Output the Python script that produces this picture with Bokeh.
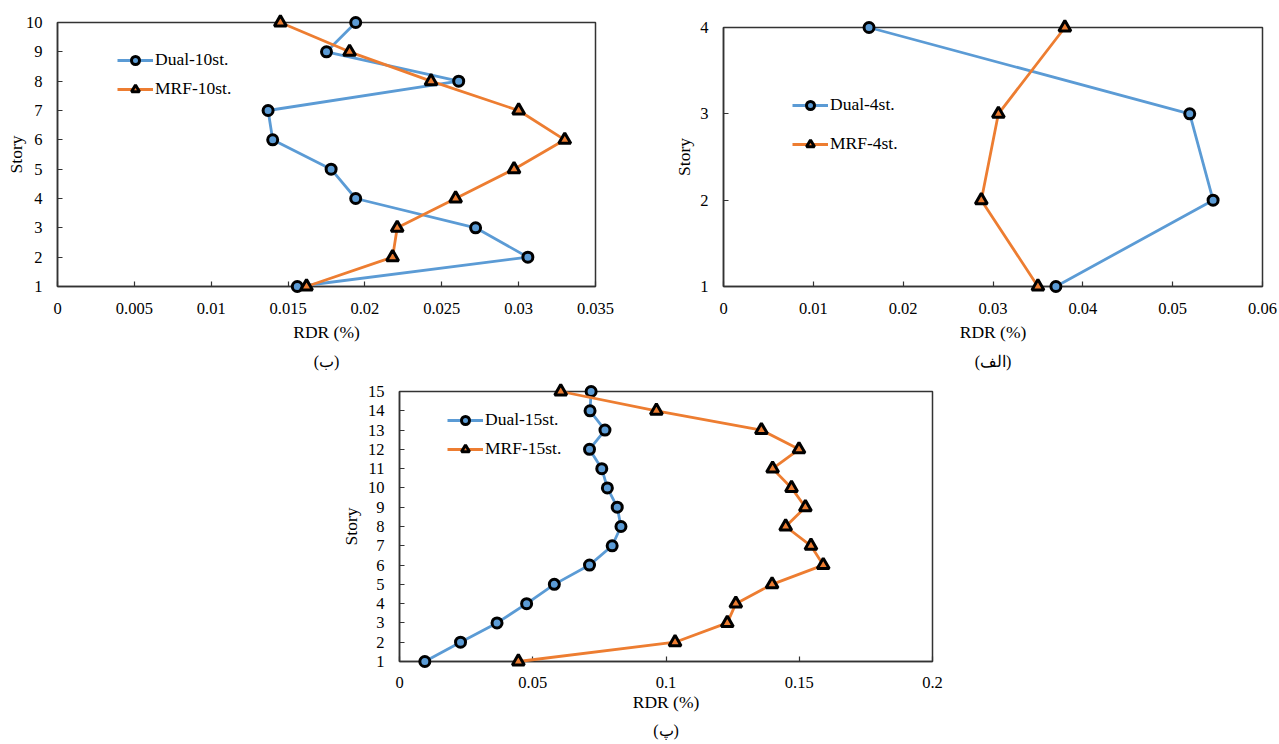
from bokeh.plotting import figure
from bokeh.models import Range1d, FixedTicker, Legend, LegendItem, Title, Spacer
from bokeh.layouts import column, row
from bokeh.embed import file_html
from bokeh.resources import INLINE

BLUE = "#5B9BD5"
ORANGE = "#ED7D31"
AXIS = "#333333"
FONT = "Liberation Serif"

# ---- 10-story (ب) ----
stories_10 = [1, 2, 3, 4, 5, 6, 7, 8, 9, 10]
dual_10 = [0.0156, 0.0306, 0.0272, 0.0194, 0.0178, 0.0140, 0.0137, 0.0261, 0.0175, 0.0194]
mrf_10 = [0.0162, 0.0218, 0.0221, 0.0259, 0.0297, 0.0330, 0.0300, 0.0243, 0.0190, 0.0145]
xticks_10 = [0, 0.005, 0.01, 0.015, 0.02, 0.025, 0.03, 0.035]
xlabels_10 = ["0", "0.005", "0.01", "0.015", "0.02", "0.025", "0.03", "0.035"]

# ---- 4-story (الف) ----
stories_4 = [1, 2, 3, 4]
dual_4 = [0.0370, 0.0545, 0.0519, 0.0162]
mrf_4 = [0.0350, 0.0287, 0.0306, 0.0380]
xticks_4 = [0, 0.01, 0.02, 0.03, 0.04, 0.05, 0.06]
xlabels_4 = ["0", "0.01", "0.02", "0.03", "0.04", "0.05", "0.06"]

# ---- 15-story (پ) ----
stories_15 = [1, 2, 3, 4, 5, 6, 7, 8, 9, 10, 11, 12, 13, 14, 15]
dual_15 = [0.0095, 0.0229, 0.0366, 0.0477, 0.0581, 0.0713, 0.0798, 0.0831,
           0.0817, 0.0780, 0.0759, 0.0713, 0.0771, 0.0715, 0.0719]
mrf_15 = [0.0446, 0.1034, 0.1230, 0.1262, 0.1398, 0.1590, 0.1544, 0.1449,
          0.1523, 0.1471, 0.1400, 0.1499, 0.1358, 0.0964, 0.0605]
xticks_15 = [0, 0.05, 0.1, 0.15, 0.2]
xlabels_15 = ["0", "0.05", "0.1", "0.15", "0.2"]


def make_panel(stories, dual, mrf, xticks, xlabels, names, caption,
               width, height, borders, legend_cfg, xstand, ystand):
    bl, br, bt, bb = borders
    p = figure(width=width, height=height,
               x_range=Range1d(xticks[0], xticks[-1]),
               y_range=Range1d(stories[0], stories[-1]),
               output_backend="svg", toolbar_location=None,
               min_border_left=bl, min_border_right=br,
               min_border_top=bt, min_border_bottom=bb,
               background_fill_color="white", border_fill_color="white")
    p.xgrid.visible = False
    p.ygrid.visible = False
    p.outline_line_color = AXIS
    p.outline_line_width = 1.5
    p.outline_line_alpha = 1

    p.xaxis.ticker = FixedTicker(ticks=xticks)
    p.xaxis.major_label_overrides = dict(zip(xticks, xlabels))
    p.yaxis.ticker = FixedTicker(ticks=stories)
    for ax in (p.xaxis, p.yaxis):
        ax.axis_line_color = AXIS
        ax.axis_line_width = 1.5
        ax.major_tick_line_color = AXIS
        ax.major_tick_line_width = 1.2
        ax.major_tick_in = 5
        ax.major_tick_out = 0
        ax.minor_tick_line_color = None
        ax.major_label_text_font = FONT
        ax.major_label_text_font_size = "16.5px"
        ax.major_label_text_color = "black"
        ax.axis_label_text_font = FONT
        ax.axis_label_text_font_size = "17.5px"
        ax.axis_label_text_font_style = "normal"
        ax.axis_label_text_color = "black"
    p.xaxis.axis_label = "RDR (%)"
    p.yaxis.axis_label = "Story"
    p.xaxis.major_label_standoff = xstand[0]
    p.xaxis.axis_label_standoff = xstand[1]
    p.yaxis.major_label_standoff = ystand[0]
    p.yaxis.axis_label_standoff = ystand[1]

    l1 = p.line(dual, stories, line_color=BLUE, line_width=2.8, level="overlay")
    s1 = p.scatter(dual, stories, marker="circle", size=10, fill_color=BLUE,
                   line_color="black", line_width=3, level="overlay")
    l2 = p.line(mrf, stories, line_color=ORANGE, line_width=2.8, level="overlay")
    s2 = p.scatter(mrf, stories, marker="triangle", size=12, fill_color=ORANGE,
                   line_color="black", line_width=3, level="overlay")

    lx, ly, spacing = legend_cfg
    leg = Legend(items=[LegendItem(label=names[0], renderers=[l1, s1]),
                        LegendItem(label=names[1], renderers=[l2, s2])],
                 location=(lx, ly), orientation="vertical",
                 border_line_alpha=0, background_fill_alpha=0,
                 padding=0, margin=0, spacing=spacing,
                 glyph_width=36, glyph_height=20, label_standoff=2,
                 label_text_font=FONT, label_text_font_size="17.5px",
                 label_text_color="black")
    p.add_layout(leg)

    p.add_layout(Title(text=caption, align="center", text_font=FONT,
                       text_font_size="16px", text_font_style="normal",
                       text_color="black", standoff=xstand[2]), "below")
    return p


pA = make_panel(stories_10, dual_10, mrf_10, xticks_10, xlabels_10,
                ["Dual-10st.", "MRF-10st."], "(ب)",
                650, 375, (57, 55, 22, 87), (60, 187, 8), (16, 5, 12), (15, -3))
pB = make_panel(stories_4, dual_4, mrf_4, xticks_4, xlabels_4,
                ["Dual-4st.", "MRF-4st."], "(الف)",
                627, 375, (73, 15, 27, 87), (69, 132, 18), (16, 5, 12), (15, 3))
pC = make_panel(stories_15, dual_15, mrf_15, xticks_15, xlabels_15,
                ["Dual-15st.", "MRF-15st."], "(پ)",
                622, 368, (69, 20, 16, 81), (48, 202, 8), (15, 1, 10), (15, 4))

layout = column(row(column(pA), column(pB)),
                row(Spacer(width=330, height=368), pC))
open("out.html", "w").write(file_html(layout, INLINE))
